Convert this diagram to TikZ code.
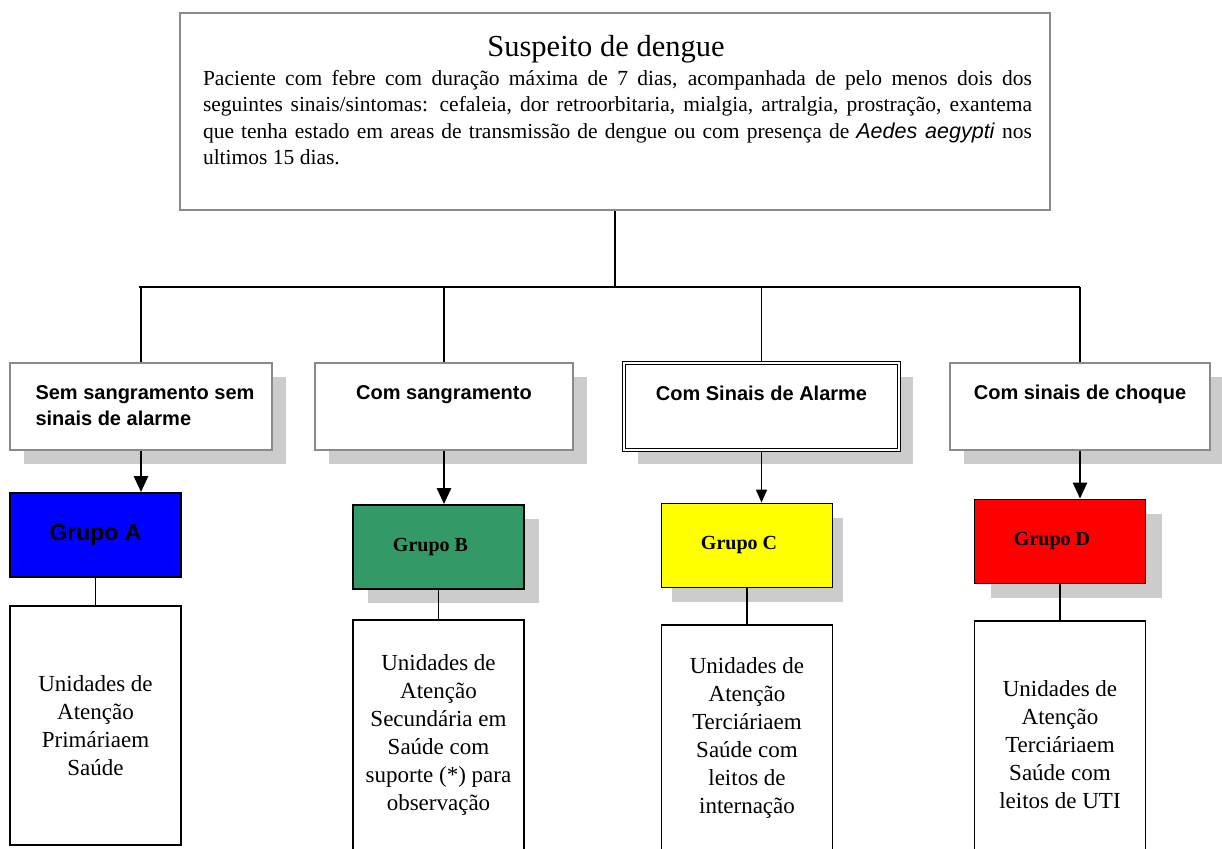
\documentclass[tikz,border=0pt]{standalone}
\usepackage{fontspec}
\setmainfont{Liberation Serif}
\setsansfont{Liberation Sans}
\usetikzlibrary{arrows.meta, positioning, shadows, calc}
\definecolor{bordergray}{HTML}{8A8A8A}
\definecolor{shadowgray}{HTML}{CCCCCC}
\definecolor{grpA}{HTML}{0000FF}
\definecolor{grpB}{HTML}{339966}
\definecolor{grpC}{HTML}{FFFF00}
\definecolor{grpD}{HTML}{FF0000}

\begin{document}
\begin{tikzpicture}[x=1pt, y=-1pt,
gshadow/.style = {drop shadow={shadow xshift=#1, shadow yshift=-14pt, fill=shadowgray, opacity=1}},
topbox/.style = {rectangle, draw=bordergray, line width=1.4pt, minimum width=870pt, minimum height=197pt},
casebox/.style = {% case boxes (second row)
rectangle, draw=bordergray, line width=1.6pt, fill=white, gshadow=14pt,
minimum width=260pt, minimum height=87pt},
casetxt/.style = {inner sep=0pt, align=left, font=\sffamily\bfseries\fontsize{20}{26}\selectfont},
grpbox/.style = {% coloured group boxes
rectangle, draw=black, line width=1.8pt, minimum width=171pt, minimum height=84pt,
font=\bfseries\fontsize{20}{24}\selectfont},
offtxt/.style = {execute at end node=\hspace*{16pt}},
unitbox/.style = {rectangle, draw=black, line width=1.8pt, fill=white, minimum width=171pt,
align=center, font=\fontsize{23}{28}\selectfont},
link/.style = {draw=black, line width=1.8pt},
bus/.style = {draw=black, line width=2.6pt},
arr/.style = {draw=black, line width=2.6pt, -{Triangle[width=14pt, length=16pt]}},
thinarr/.style = {draw=black, line width=1.6pt, -{Triangle[width=11pt, length=13pt]}}]
\useasboundingbox (0,0) rectangle (1222,848);
\clip (0,0) rectangle (1222,848);
% top box
\node[topbox] (susp) at (615,111.5) {};
\node[anchor=base, font=\fontsize{30.5}{34}\selectfont] (titulo) at (606,57) {Suspeito de dengue};
\node[anchor=north, inner sep=0pt, text width=829pt, align=justify,
font=\fontsize{21.5}{26.5}\selectfont] (corpo) at (617.5,70)
{Paciente com febre com duração máxima de 7 dias, acompanhada de pelo menos dois dos\linebreak
seguintes sinais/sintomas: cefaleia, dor retroorbitaria, mialgia, artralgia, prostração, exantema\linebreak
que tenha estado em areas de transmissão de dengue ou com presença de \textsf{\itshape Aedes aegypti} nos\linebreak
ultimos 15 dias.};
\coordinate (busy) at (617,287);
% second row
\node[casebox, minimum width=262pt] (s1) at (141,406.5) {};
\node[casebox, minimum width=258pt] (s2) at (444,406.5) {};
\node[casebox, double, draw=black, line width=1.1pt, double distance=2pt,
minimum width=275pt, minimum height=87pt] (s3) at (761.5,406.5) {};
\node[casebox] (s4) at (1080,406.5) {};
\node[casetxt, below=23pt of s1.north, xshift=4pt] (s1t) {Sem sangramento sem\\sinais de alarme};
\node[casetxt, below=23pt of s2.north] (s2t) {Com sangramento};
\node[casetxt, below=23pt of s3.north] (s3t) {Com Sinais de Alarme};
\node[casetxt, below=23pt of s4.north] (s4t) {Com sinais de choque};
% groups
\node[grpbox, fill=grpA, font=\sffamily\bfseries\fontsize{23}{26}\selectfont] (ga) at (95.5,535) {Grupo A};
\node[grpbox, fill=grpB, gshadow=15pt, offtxt] (gb) at (438.5,547) {Grupo B};
\node[grpbox, fill=grpC, gshadow=10pt, offtxt] (gc) at (747,545.5) {Grupo C};
\node[grpbox, fill=grpD, gshadow=16pt, offtxt] (gd) at (1060,541.5) {Grupo D};
% units
\node[unitbox, minimum height=239pt] (ua) at (95.5,725.5) {Unidades de\\Atenção\\Primáriaem\\Saúde};
\node[unitbox, minimum height=230pt] (ub) at (438.5,735) {Unidades de\\Atenção\\Secundária em\\Saúde com\\suporte (*) para\\observação};
\node[unitbox, minimum height=225pt] (uc) at (747,737.5) {Unidades de\\Atenção\\Terciáriaem\\Saúde com\\leitos de\\internação};
\node[unitbox, minimum height=247pt] (ud) at (1060,744.5) {Unidades de\\Atenção\\Terciáriaem\\Saúde com\\leitos de UTI};
% connectors
\draw[link] (susp.south) -- (susp.south |- busy);
\draw[bus] ($(s1.north |- busy)+(-2,0)$) -- (s4.north |- busy);
\foreach \s in {s1,s2,s3,s4}
  \draw[link] (\s.north |- busy) -- (\s.north);
\draw[arr] (s1.south) -- (s1.south |- ga.north);
\draw[arr] (s2.south) -- (s2.south |- gb.north);
\draw[thinarr] (s3.south) -- (s3.south |- gc.north);
\draw[arr] (s4.south) -- (s4.south |- gd.north);
\draw[link] (ga.south) -- (ua.north);
\draw[link] (gb.south) -- (ub.north);
\draw[link] (gc.south) -- (uc.north);
\draw[link] (gd.south) -- (ud.north);
\end{tikzpicture}
\end{document}
